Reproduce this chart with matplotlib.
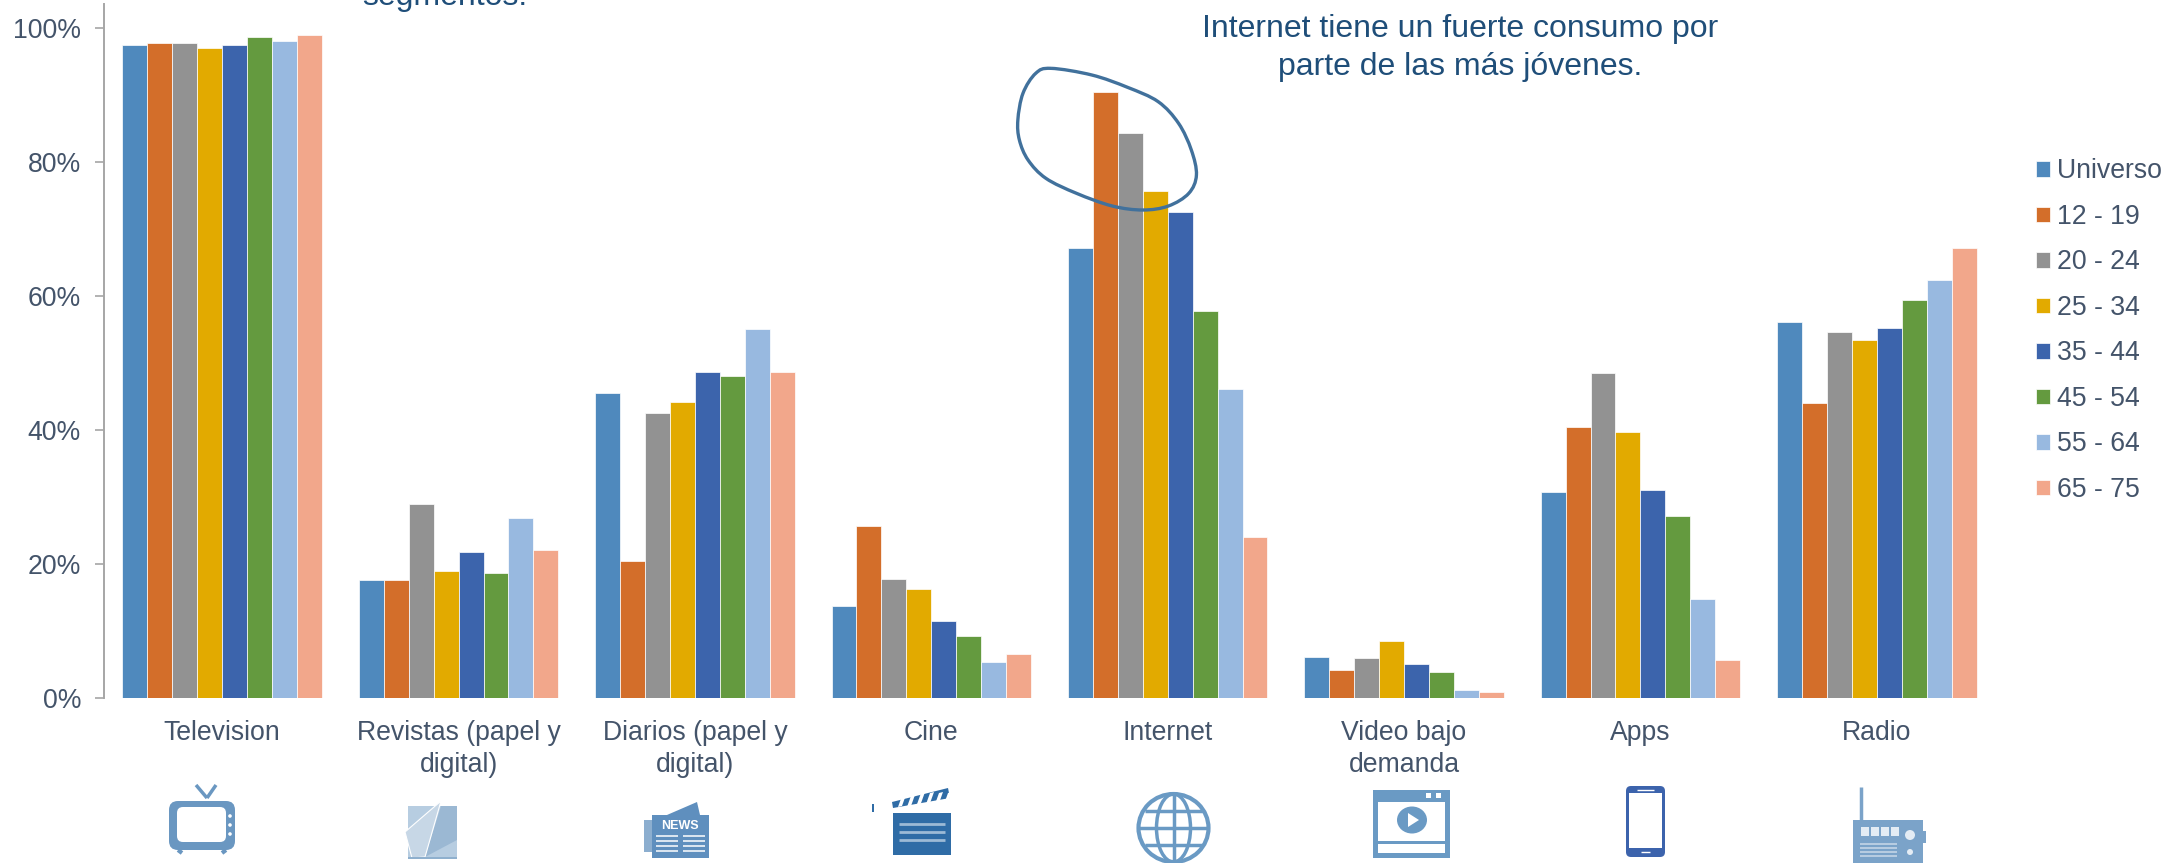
import numpy as np
import matplotlib
matplotlib.use("Agg")
import matplotlib.pyplot as plt
from matplotlib.patches import Rectangle, FancyBboxPatch, Polygon, Ellipse, PathPatch, Circle
from matplotlib.path import Path
from matplotlib.ticker import FuncFormatter

categories = ["Television", "Revistas (papel y\ndigital)", "Diarios (papel y\ndigital)", "Cine",
              "Internet", "Video bajo\ndemanda", "Apps", "Radio"]
universo = [97.4, 17.6, 45.5, 13.7, 67.1, 6.1, 30.7, 56.1]
s12_19 = [97.7, 17.6, 20.5, 25.6, 90.5, 4.2, 40.5, 44.1]
s20_24 = [97.7, 29.0, 42.5, 17.7, 84.4, 5.9, 48.5, 54.7]
s25_34 = [97.0, 18.9, 44.2, 16.2, 75.6, 8.5, 39.7, 53.5]
s35_44 = [97.4, 21.8, 48.7, 11.5, 72.5, 5.1, 31.0, 55.2]
s45_54 = [98.7, 18.6, 48.0, 9.2, 57.8, 3.9, 27.2, 59.4]
s55_64 = [98.0, 26.9, 55.0, 5.4, 46.1, 1.2, 14.8, 62.4]
s65_75 = [99.0, 22.1, 48.6, 6.5, 24.0, 0.9, 5.6, 67.1]
series = [universo, s12_19, s20_24, s25_34, s35_44, s45_54, s55_64, s65_75]
labels = ["Universo", "12 - 19", "20 - 24", "25 - 34", "35 - 44", "45 - 54", "55 - 64", "65 - 75"]
colors = ["#4F89BD", "#D36E2A", "#929292", "#E2AA00", "#3C64AC", "#649A3F", "#98B9E0", "#F2A78B"]
yticks = [0, 20, 40, 60, 80, 100]

plt.rcParams['font.family'] = ['Liberation Sans', 'DejaVu Sans']
W, H = 2169, 863
TXT = "#44546A"
FS = 19.2
fig = plt.figure(figsize=(W/100, H/100), dpi=100, facecolor="white")
ax = fig.add_axes([104/W, 1-698/H, (1995-104)/W, (698-4)/H])
bw = 0.10554
x = np.arange(len(categories)) + 0.5
handles = []
for j, vals in enumerate(series):
    b = ax.bar(x + (j-3.5)*bw, vals, bw, color=colors[j], edgecolor="#FFFFFF", linewidth=0.5, label=labels[j])
    handles.append(b)
ax.set_xlim(0, 8)
ax.set_ylim(0, 100*694/670)
ax.set_yticks(yticks)
ax.yaxis.set_major_formatter(FuncFormatter(lambda v, _: f"{v:.0f}%"))
ax.set_xticks(x)
ax.set_xticklabels(categories, linespacing=1.3)
ax.tick_params(axis='x', length=0, pad=15.5, labelsize=FS, labelcolor=TXT)
ax.tick_params(axis='y', length=6.5, width=1.2, color="#A6A6A6", pad=10, labelsize=FS, labelcolor=TXT)
for s in ("top", "right", "bottom"):
    ax.spines[s].set_visible(False)
ax.spines['left'].set_color("#A6A6A6")
ax.spines['left'].set_linewidth(1.4)

leg = ax.legend(handles=handles, loc='upper left', bbox_to_anchor=(2036/W, 1-158.5/H), bbox_transform=fig.transFigure,
                frameon=False, fontsize=FS, labelcolor=TXT, handlelength=0.52, handleheight=0.52,
                handletextpad=0.27, labelspacing=0.73, borderpad=0, borderaxespad=0)

# overlay in pixel coordinates for notes and pictograms
ov = fig.add_axes([0, 0, 1, 1], zorder=5)
ov.set_xlim(0, W); ov.set_ylim(H, 0); ov.axis("off"); ov.patch.set_alpha(0)
NOTE = "#1F4E79"
ov.text(445, -6, "segmentos.", ha="center", va="center_baseline", fontsize=23, color=NOTE)
ov.text(1460, 29, "Internet tiene un fuerte consumo por", ha="center", va="center", fontsize=23, color=NOTE)
ov.text(1460, 67, "parte de las más jóvenes.", ha="center", va="center", fontsize=23, color=NOTE)

# hand-drawn circle
zx = np.array([100,180,250,310,350,375,385,370,330,280,220,150,90,55,38,35,45,70])
zy = np.array([205,225,262,305,370,450,525,580,618,630,618,580,535,480,420,360,280,220])
px = 1000 + zx/1.96; py = zy/3
n = len(px); vs = [(px[0], py[0])]; cd = [Path.MOVETO]
for i in range(n):
    p0, p1, p2, p3 = [np.array([px[(i+k) % n], py[(i+k) % n]]) for k in (-1, 0, 1, 2)]
    vs += [tuple(p1+(p2-p0)/6), tuple(p2-(p3-p1)/6), tuple(p2)]; cd += [Path.CURVE4]*3
ov.add_patch(PathPatch(Path(vs, cd), fc="none", ec="#41719C", lw=2.4))

def rr(x0, y0, x1, y1, r, c, z=1):
    ov.add_patch(FancyBboxPatch((x0+r, y0+r), x1-x0-2*r, y1-y0-2*r, boxstyle=f"round,pad={r},rounding_size={r}",
                                fc=c, ec="none", zorder=z))
def rect(x0, y0, x1, y1, c, z=2):
    ov.add_patch(Rectangle((x0, y0), x1-x0, y1-y0, fc=c, ec="none", zorder=z))
def line(xs, ys, c, lw=2, z=3):
    ov.plot(xs, ys, color=c, lw=lw, zorder=z, solid_capstyle="butt")

# TV
c = "#6A97C1"
line([207, 196], [798, 785], c, 2.5); line([207, 216], [798, 785], c, 2.5)
rr(169, 801, 235, 850, 9, c); rr(177, 807, 226, 842, 6, "white", 2)
for yy in (816, 825, 834):
    ov.add_patch(Circle((230, yy), 1.8, fc="white", ec="none", zorder=3))
line([178, 182], [850, 853], c, 3); line([226, 222], [850, 853], c, 3)

# magazine
rect(408, 806, 457, 859, "#B7CDE1")
ov.add_patch(Polygon([(441, 806), (457, 806), (457, 840), (425, 857)], fc="#9BB8D3", ec="none", zorder=3))
ov.add_patch(Polygon([(441, 801), (405, 832), (412, 858), (425, 857)], fc="#C7D7E6", ec="white", lw=0.8, zorder=4))
rect(408, 857, 457, 859, "#8FB0CE", 5)

# newspaper
c = "#5F8FBE"
ov.add_patch(Polygon([(660, 818), (697, 802), (700, 815)], fc=c, ec="none", zorder=2))
rect(652, 815, 709, 858, c); rect(644, 820, 652, 852, "#8CAECF")
ov.text(680, 826, "NEWS", ha="center", va="center", fontsize=9, fontweight="bold", color="white", zorder=4)
for yy in (836, 841, 846, 851):
    line([656, 678], [yy, yy], "white", 1.1, 4); line([683, 705], [yy, yy], "white", 1.1, 4)

# clapper
c = "#2F6CA6"
rect(893, 813, 951, 855, c)
ov.add_patch(Polygon([(892, 802), (948, 788), (950, 798), (893, 808)], fc=c, ec="none", zorder=2))
for xx in np.arange(898, 945, 9):
    ov.add_patch(Polygon([(xx, 807), (xx+4, 806), (xx+9, 792), (xx+5, 793)], fc="white", ec="none", zorder=3))
for yy in (824, 832, 840):
    line([899, 945], [yy, yy], "#9CBAD6", 2, 3)
rect(872, 804, 874, 812, c)

# globe
c = "#6A9AC4"
cx, cy = 1173.5, 828
ov.add_patch(Ellipse((cx, cy), 70, 68, fc="none", ec=c, lw=3, zorder=2))
ov.add_patch(Ellipse((cx, cy), 34, 68, fc="none", ec=c, lw=2.5, zorder=2))
line([cx, cx], [cy-34, cy+34], c, 2.5); line([cx-35, cx+35], [cy, cy], c, 2.5)
line([cx-29, cx+29], [cy-17, cy-17], c, 2.5); line([cx-29, cx+29], [cy+17, cy+17], c, 2.5)

# video window
c = "#6A9AC4"
rect(1373, 790, 1450, 858, c); rect(1378, 802, 1445, 853, "white", 3)
rect(1378, 841, 1445, 844, c, 4)
ov.add_patch(Ellipse((1412, 820), 30, 27, fc=c, ec="none", zorder=4))
ov.add_patch(Polygon([(1408, 813), (1408, 827), (1419, 820)], fc="white", ec="none", zorder=5))
rect(1426, 793, 1431, 798, "white", 4); rect(1436, 793, 1441, 798, "white", 4)

# phone
c = "#3C63AC"
rr(1626, 786, 1665, 857, 5, c); rect(1629, 793, 1662, 848, "white", 3)
line([1637, 1654], [789.5, 789.5], "white", 1, 4)
line([1641, 1650], [852, 852], "white", 1, 4)

# radio
c = "#7BA3C9"
line([1861, 1861], [787, 821], c, 2.5)
rect(1853, 820, 1923, 863, c, 2); rect(1923, 831, 1926, 843, c, 2)
for xx in (1861, 1871, 1881, 1891):
    rect(xx, 827, xx+8, 836, "#E4ECF4", 3)
ov.add_patch(Circle((1910, 835), 5, fc="#E4ECF4", ec="none", zorder=3))
ov.add_patch(Circle((1910, 852), 3, fc="#E4ECF4", ec="none", zorder=3))
for yy in (844, 848, 852, 856):
    line([1860, 1897], [yy, yy], "#B9CEE2", 1.4, 3)

fig.savefig("out.png", dpi=100, facecolor="white")
